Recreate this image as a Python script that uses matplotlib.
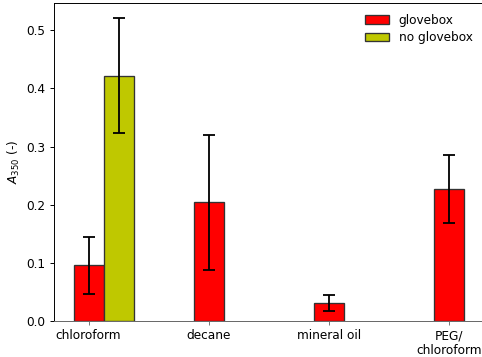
import numpy as np
import matplotlib
matplotlib.use("Agg")
import matplotlib.pyplot as plt

# data
categories = ["chloroform", "decane", "mineral oil", "PEG/\nchloroform"]
glovebox = [0.096, 0.204, 0.031, 0.227]
glovebox_err = [0.049, 0.116, 0.013, 0.058]
no_glovebox = [0.422]
no_glovebox_err = [0.099]

width = 0.25
x = np.arange(len(categories))

DPI = 87
fig = plt.figure(figsize=(482 / DPI, 357 / DPI), dpi=DPI)
ax = fig.add_axes([54 / 482, 36 / 357, 429.5 / 482, 318 / 357])

err_style = dict(elinewidth=1.5, capthick=1.5, ecolor="black")
ax.bar(x, glovebox, width, yerr=glovebox_err, color="red", edgecolor="#333333",
       linewidth=1.1, capsize=5, error_kw=err_style, label="glovebox")
ax.bar(x[:len(no_glovebox)] + width, no_glovebox, width, yerr=no_glovebox_err,
       color="#bfc800", edgecolor="#333333", linewidth=1.1, capsize=5,
       error_kw=err_style, label="no glovebox")

ax.set_xticks(x)
ax.set_xticklabels(categories)
ax.set_ylabel("$A_{350}$ (-)")
ax.spines["bottom"].set_color("#666666")
ax.tick_params(axis="x", color="#777777")
ax.legend(loc="upper right", frameon=False, labelspacing=0.35)

fig.savefig("out.png", dpi=DPI)
